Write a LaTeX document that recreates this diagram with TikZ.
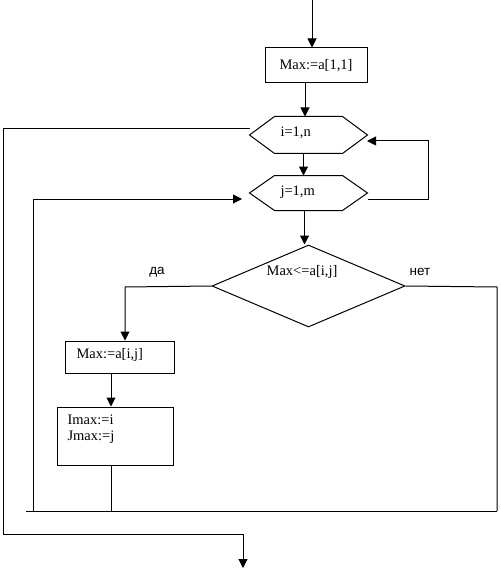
\documentclass[tikz,border=0pt]{standalone}
\usepackage{fontspec}
\setmainfont{Liberation Serif}
\newfontfamily\lsans{Liberation Sans}
\usetikzlibrary{arrows.meta,shapes.geometric}
\begin{document}
\begin{tikzpicture}[x=1pt,y=-1pt,
  line width=1pt,
  arr/.style={-{Triangle[length=9pt,width=9pt]}},
  box/.style={draw,rectangle,inner sep=0pt},
  hexbase/.style={rectangle,inner sep=0pt,draw=none},
  txt/.style={font=\fontsize{14.5}{17}\selectfont,inner sep=0pt},
  lbl/.style={font=\lsans\fontsize{13.5}{16}\selectfont,inner sep=0pt}]
\useasboundingbox (0,0) rectangle (500,572);
% nodes
\coordinate (s) at (312,0);
\node[box,minimum width=102pt,minimum height=35pt,txt] (m1) at (316,65.5) {Max:=a[1,1]};
\node[hexbase,minimum width=117pt,minimum height=36pt] (hi) at (308.5,135) {};
\node[hexbase,minimum width=117pt,minimum height=34pt] (hj) at (308.5,193) {};
\node[txt,anchor=west] (hit) at (280,133) {i=1,n};
\node[txt,anchor=west] (hjt) at (280,192) {j=1,m};
\draw (hi.west) -- ([xshift=25pt]hi.north west) -- ([xshift=-25pt]hi.north east) -- (hi.east)
      -- ([xshift=-25pt]hi.south east) -- ([xshift=25pt]hi.south west) -- cycle;
\draw (hj.west) -- ([xshift=25pt]hj.north west) -- ([xshift=-25pt]hj.north east) -- (hj.east)
      -- ([xshift=-25pt]hj.south east) -- ([xshift=25pt]hj.south west) -- cycle;
\node[draw,diamond,minimum width=193pt,minimum height=82pt,inner sep=0pt] (d) at (308.5,286) {};
\node[txt] (dt) at (302,272) {Max<=a[i,j]};
\node[lbl] (da) at (157,272) {да};
\node[lbl] (net) at (420,272) {нет};
\node[box,minimum width=109pt,minimum height=32pt] (m2) at (119.5,357) {};
\node[txt,anchor=west] (m2t) at (76,355) {Max:=a[i,j]};
\node[box,minimum width=116pt,minimum height=58pt] (m3) at (115,436) {};
\node[txt,anchor=north west,align=left] (m3t) at (67,414) {Imax:=i\\[-1pt]Jmax:=j};
% named points
\coordinate (rt) at (428,199);
\coordinate (rb) at (428,141);
\coordinate (ri) at (367,141);
\coordinate (bl) at (26,511);
\coordinate (br) at (497,511);
\coordinate (lx) at (33,511);
\coordinate (jt) at (242,199);
\coordinate (ol) at (3,129);
\coordinate (ob) at (3,534);
\coordinate (oe) at (243,534);
\coordinate (end) at (243,568);
\coordinate (yx) at (125,287);
\coordinate (nx) at (497,287);
% connectors
\draw[arr] (s) -- (s |- m1.north);
\draw[arr] ([xshift=-11pt]m1.south) -- ([xshift=-11pt]m1.south |- hi.north);
\draw[arr] ([xshift=-5pt]hi.south) -- ([xshift=-5pt]hj.north);
\draw[arr] (hj.east |- rt) -- (rt) -- (rb) -- (ri);
\draw[arr] ([xshift=-4pt]hj.south) -- ([xshift=-4pt]hj.south |- d.north);
\draw[arr] (d.west) -- (yx) -- (yx |- m2.north);
\draw (d.east) -- (nx) -- (br);
\draw (bl) -- (br);
\draw[arr] ([xshift=-8.5pt]m2.south) -- ([xshift=-8.5pt]m2.south |- m3.north);
\draw ([xshift=-4pt]m3.south) -- ([xshift=-4pt]m3.south |- bl);
\draw[arr] (lx) -- (lx |- jt) -- (jt);
\draw[arr] (ol -| hi.west) -- (ol) -- (ob) -- (oe) -- (end);
\end{tikzpicture}
\end{document}
